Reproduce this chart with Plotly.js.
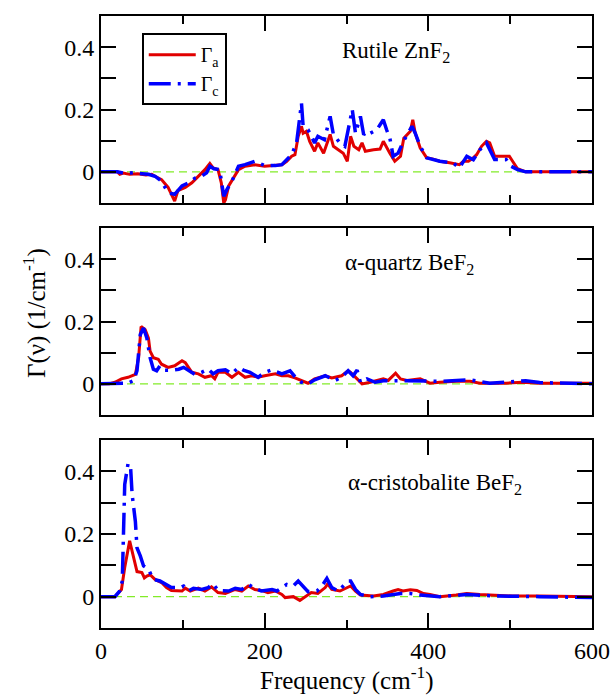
<!DOCTYPE html>
<html>
<head>
<meta charset="utf-8">
<script src="https://cdn.plot.ly/plotly-3.0.1.min.js"></script>
<style>html,body{margin:0;padding:0;background:#fff;}</style>
</head>
<body>
<div id="chart" style="width:614px;height:696px;"></div>
<script>
// ---- Data ----
const seriesNames = ["Γ<sub>a</sub>", "Γ<sub>c</sub>"];
const panelLabels = ["Rutile ZnF<sub>2</sub>", "α-quartz BeF<sub>2</sub>", "α-cristobalite BeF<sub>2</sub>"];
const xTickVals = [0, 200, 400, 600];
const yTickVals = [-0.1, 0, 0.1, 0.2, 0.3, 0.4, 0.5];
const yTickText = ["", "0", "", "0.2", "", "0.4", ""];

// Rutile ZnF2
const rutileAx = [0,10,20,23,27,35,45,55,62,66,74,82,90,94,103,111,119,127,133,137,143,147,150,152,156,162,168,176,188,200,213,221,227,233,237,241,245,247,251,255,261,265,272,276,280,284,290,296,301,305,309,315,319,323,333,341,345,349,353,359,366,370,378,381,384,390,398,406,414,426,438,443,449,455,459,465,471,475,481,487,499,503,509,519,560,600];
const rutileAy = [0,0,0,-0.008,-0.004,-0.008,-0.006,-0.01,-0.008,-0.014,-0.025,-0.05,-0.094,-0.06,-0.05,-0.035,-0.014,0.007,0.027,0.013,0.007,-0.035,-0.1,-0.09,-0.045,-0.02,0.007,0.018,0.023,0.018,0.02,0.023,0.034,0.05,0.055,0.114,0.146,0.124,0.13,0.098,0.066,0.093,0.06,0.087,0.12,0.082,0.071,0.06,0.034,0.114,0.082,0.071,0.093,0.066,0.071,0.073,0.098,0.077,0.06,0.034,0.05,0.108,0.13,0.167,0.124,0.077,0.045,0.041,0.034,0.029,0.023,0.034,0.034,0.045,0.055,0.082,0.098,0.093,0.05,0.05,0.05,0.034,0.01,0,0,0];
const rutileCx = [0,20,30,40,50,58,66,74,82,90,99,107,115,123,129,133,138,145,150,154,160,168,176,188,200,213,221,233,239,245,247,253,261,265,273,280,284,292,298,303,307,311,315,317,321,325,329,337,341,345,349,353,357,363,370,380,384,390,398,406,414,430,438,447,455,463,471,481,495,501,509,519,560,600];
const rutileCy = [0,0,-0.005,-0.003,-0.006,-0.008,-0.014,-0.03,-0.067,-0.072,-0.045,-0.035,-0.02,-0.014,-0.003,0.018,0.01,0.007,-0.078,-0.056,-0.03,0.018,0.023,0.034,0.02,0.02,0.023,0.055,0.093,0.22,0.146,0.135,0.093,0.114,0.103,0.178,0.119,0.093,0.082,0.156,0.2,0.124,0.167,0.178,0.119,0.13,0.124,0.135,0.151,0.167,0.135,0.108,0.05,0.06,0.1,0.146,0.124,0.082,0.045,0.04,0.034,0.029,0.013,0.05,0.039,0.071,0.093,0.04,0.04,0.018,0.007,0,0,0];

// alpha-quartz BeF2
const quartzAx = [0,10,17,25,33,42,46,49,54,58,60,64,70,74,82,90,99,103,111,119,127,135,139,143,152,160,168,176,184,192,200,213,221,229,237,245,253,261,274,282,294,302,305,313,319,329,345,351,360,366,374,390,402,414,434,451,463,495,515,536,600];
const quartzAy = [0,0,0.005,0.016,0.021,0.03,0.084,0.184,0.174,0.147,0.105,0.084,0.079,0.063,0.053,0.058,0.074,0.068,0.037,0.032,0.021,0.026,0.016,0.037,0.037,0.021,0.037,0.021,0.026,0.021,0.026,0.032,0.026,0.026,0.019,0.011,0.002,0.016,0.026,0.019,0.026,0.042,0.037,0.016,0,0.005,0.016,0.011,0.034,0.016,0.011,0.016,0.002,0.005,0.008,0.008,0.002,0.002,0.005,0.002,0.002];
const quartzCx = [0,17,33,40,44,48,52,56,60,64,68,72,78,86,95,101,107,115,123,131,137,143,152,160,168,174,182,192,200,209,221,231,237,245,253,261,274,286,294,302,308,313,317,325,335,345,374,414,451,475,519,536,600];
const quartzCy = [0,0,0.002,0.011,0.042,0.158,0.179,0.147,0.084,0.047,0.042,0.058,0.044,0.044,0.047,0.053,0.042,0.03,0.037,0.047,0.032,0.042,0.045,0.032,0.053,0.044,0.037,0.021,0.037,0.045,0.032,0.042,0.023,0.005,0,0.013,0.026,0.011,0.021,0.042,0.026,0.044,0.005,0.016,0.005,0.01,0.01,0.008,0.013,0.002,0.01,0.004,0];

// alpha-cristobalite BeF2
const cristAx = [0,17,25,29,35,40,44,50,53,56,60,66,74,80,86,99,103,109,119,127,135,143,152,164,172,180,188,196,204,213,221,225,235,243,249,257,265,274,277,282,292,301,305,311,317,333,345,357,363,369,378,386,394,402,414,434,447,463,483,503,536,600];
const cristAy = [0,0,0.023,0.093,0.178,0.124,0.08,0.077,0.06,0.066,0.07,0.055,0.045,0.029,0.02,0.018,0.027,0.018,0.027,0.018,0.031,0.013,0.01,0.023,0.018,0.034,0.023,0.02,0.013,0.018,0.007,-0.003,0,-0.012,0,0.013,0.01,0.029,0.041,0.023,0.018,0.029,0.034,0.018,0.005,0.002,0.007,0.018,0.023,0.018,0.022,0.02,0.01,0.007,0,0.005,0.01,0.007,0.005,0.002,0.002,0];
const cristCx = [0,17,23,26,29,33,36,38,42,44,48,52,58,64,72,80,86,97,101,107,113,123,131,137,143,156,164,172,180,188,196,209,215,227,235,241,247,253,264,270,276,282,290,302,305,311,317,329,345,366,378,390,414,447,467,483,536,600];
const cristCy = [0,0,0.018,0.05,0.358,0.424,0.42,0.327,0.24,0.156,0.13,0.098,0.087,0.055,0.05,0.039,0.029,0.029,0.034,0.018,0.027,0.023,0.029,0.041,0.02,0.018,0.027,0.023,0.039,0.027,0.018,0.023,0.018,0.039,0.034,0.05,0.034,0.016,0.018,0.034,0.058,0.029,0.018,0.05,0.05,0.023,0.007,0,0.002,0.01,0.01,0.005,0,0.007,0.004,0.002,0,-0.003];

// ---- Styling ----
const SERIF = "Liberation Serif";
const RED = "rgb(225,0,0)";
const BLUE = "rgb(0,0,255)";
const blueDash = "22px,7px,3px,7px";

const panels = [
  {ax: rutileAx, ay: rutileAy, cx: rutileCx, cy: rutileCy, xa: "x", ya: "y"},
  {ax: quartzAx, ay: quartzAy, cx: quartzCx, cy: quartzCy, xa: "x2", ya: "y2"},
  {ax: cristAx, ay: cristAy, cx: cristCx, cy: cristCy, xa: "x3", ya: "y3"}
];

const traces = [];
panels.forEach((p, i) => {
  traces.push({x: p.ax, y: p.ay, xaxis: p.xa, yaxis: p.ya, type: "scatter", mode: "lines",
    name: seriesNames[0], showlegend: i === 0, line: {color: RED, width: 3}});
  traces.push({x: p.cx, y: p.cy, xaxis: p.xa, yaxis: p.ya, type: "scatter", mode: "lines",
    name: seriesNames[1], showlegend: i === 0, line: {color: BLUE, width: 3.5, dash: blueDash}});
});

function xAxis(anchor, showLabels) {
  return {
    anchor: anchor, domain: [0, 1], range: [0, 600],
    tickmode: "array", tickvals: xTickVals, ticktext: xTickVals.map(String),
    showticklabels: showLabels,
    ticks: "inside", ticklen: 15, tickwidth: 2, tickcolor: "#000",
    minor: {tickmode: "array", tickvals: [100, 300, 500], ticks: "inside", ticklen: 8, tickwidth: 2, tickcolor: "#000"},
    showline: true, linecolor: "#000", linewidth: 2, mirror: "allticks",
    showgrid: false, zeroline: false,
    tickfont: {family: SERIF, size: 24, color: "#000"}
  };
}
function yAxis(anchor, domain) {
  return {
    anchor: anchor, domain: domain, range: [-0.1, 0.5],
    tickmode: "array", tickvals: yTickVals, ticktext: yTickText,
    ticks: "inside", ticklen: 15, tickwidth: 2, tickcolor: "#000",
    showline: true, linecolor: "#000", linewidth: 2, mirror: "allticks",
    showgrid: false, zeroline: false,
    tickfont: {family: SERIF, size: 24, color: "#000"}
  };
}

const shapes = ["", "2", "3"].map(s => ({
  type: "line", xref: "x" + s, yref: "y" + s, x0: 0, x1: 600, y0: 0, y1: 0,
  line: {color: "rgb(130,235,40)", width: 1.3, dash: "8px,5px"}, layer: "below"
}));

const annotations = [
  {xref: "x", yref: "y", x: 361, y: 0.385, text: panelLabels[0], showarrow: false,
   xanchor: "center", yanchor: "middle", font: {family: SERIF, size: 23, color: "#000"}},
  {xref: "x2", yref: "y2", x: 377, y: 0.385, text: panelLabels[1], showarrow: false,
   xanchor: "center", yanchor: "middle", font: {family: SERIF, size: 23, color: "#000"}},
  {xref: "x3", yref: "y3", x: 408, y: 0.36, text: panelLabels[2], showarrow: false,
   xanchor: "center", yanchor: "middle", font: {family: SERIF, size: 23, color: "#000"}},
  {xref: "paper", yref: "paper", x: -0.134, y: 0.515, text: "Γ(ν) (1/cm<sup>-1</sup>)", textangle: -90,
   showarrow: false, xanchor: "center", yanchor: "middle", font: {family: SERIF, size: 25, color: "#000"}},
  {xref: "paper", yref: "paper", x: 0.5, y: -0.083, text: "Frequency (cm<sup>-1</sup>)",
   showarrow: false, xanchor: "center", yanchor: "middle", font: {family: SERIF, size: 25, color: "#000"}}
];

const layout = {
  width: 614, height: 696,
  margin: {l: 101, r: 22, t: 16, b: 68},
  paper_bgcolor: "#fff", plot_bgcolor: "#fff",
  font: {family: SERIF, color: "#000"},
  showlegend: true,
  legend: {x: 0.083, y: 0.972, xanchor: "left", yanchor: "top",
    bordercolor: "#000", borderwidth: 2, bgcolor: "#fff", itemwidth: 47,
    font: {family: SERIF, size: 20, color: "#000"}},
  xaxis: xAxis("y", false),
  xaxis2: xAxis("y2", false),
  xaxis3: xAxis("y3", true),
  yaxis: yAxis("x", [0.6944, 1]),
  yaxis2: yAxis("x2", [0.348, 0.6536]),
  yaxis3: yAxis("x3", [0, 0.3072]),
  shapes: shapes,
  annotations: annotations
};

Plotly.newPlot("chart", traces, layout, {displayModeBar: false, staticPlot: true});
</script>
</body>
</html>
